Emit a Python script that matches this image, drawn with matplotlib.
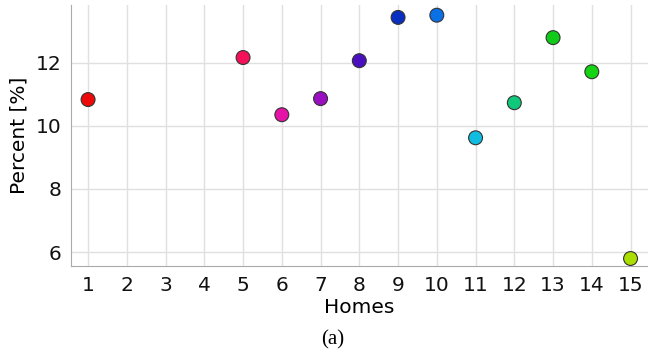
import numpy as np
import matplotlib
matplotlib.use('Agg')
import matplotlib.pyplot as plt

# Percent per home
homes = [1, 5, 6, 7, 8, 9, 10, 11, 12, 13, 14, 15]
percent = [10.83, 12.16, 10.35, 10.86, 12.06, 13.43, 13.50, 9.62, 10.73, 12.79, 11.71, 5.80]
colors = ['#ec0a0a', '#f5115a', '#e614a6', '#9a10c0', '#4a10c0', '#0a2ebf',
          '#0a70e6', '#10bde0', '#10c87a', '#10cc18', '#14d414', '#aade00']
xticks = list(range(1, 16))

fig = plt.figure(figsize=(6.48, 3.63), dpi=100)
ax = fig.add_axes([0.1096, 0.267, 0.8904, 0.719])

ax.scatter(homes, percent, s=100, c=colors, edgecolors='#333333', linewidths=0.8, zorder=3)

ax.set_xlim(0.56, 15.45)
ax.set_ylim(5.56, 13.82)
ax.set_xticks(xticks)
ax.set_yticks([6, 8, 10, 12])
ax.grid(True, color='#e0e0e0', linewidth=1.0)
ax.set_axisbelow(True)
ax.tick_params(length=0, labelsize=14.5, pad=7, colors='#111111')

ax.spines['right'].set_color('none')
ax.spines['top'].set_color('none')
ax.spines['left'].set_color('#aaaaaa')
ax.spines['bottom'].set_color('#aaaaaa')

ax.set_xlabel('Homes', fontsize=14.5, labelpad=2)
ax.set_ylabel('Percent [%]', fontsize=14.5, labelpad=5)

fig.text(0.514, 0.063, '(a)', fontsize=15, family='Liberation Serif', ha='center', va='center')

fig.savefig('out.png', dpi=100)
